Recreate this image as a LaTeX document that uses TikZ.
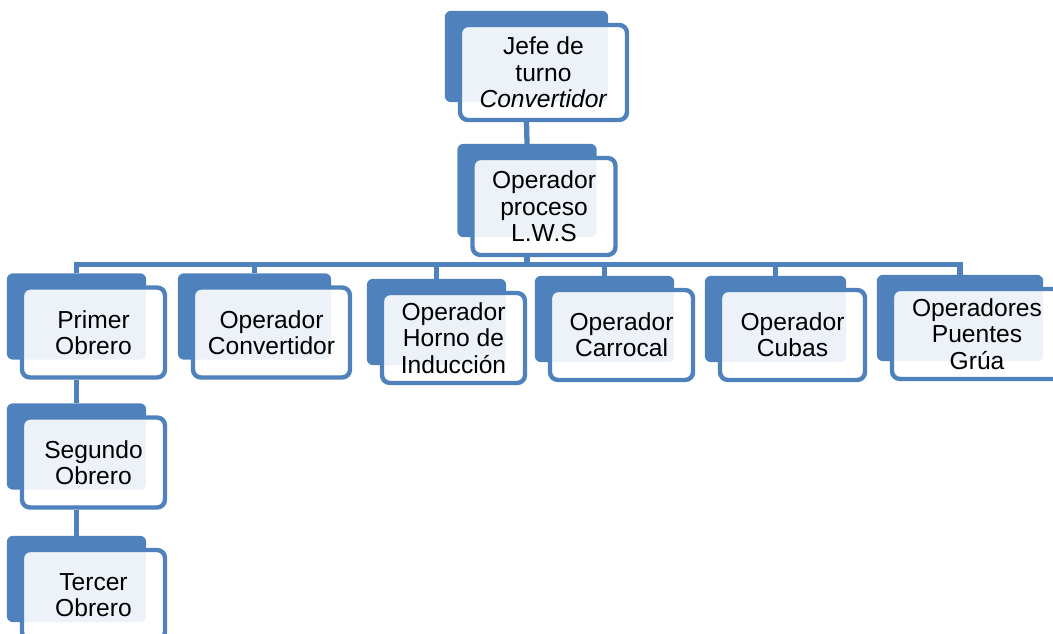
\documentclass[tikz,border=0pt]{standalone}
\usepackage{fontspec}
\setmainfont{Liberation Sans}
\usetikzlibrary{backgrounds}
\definecolor{orgblue}{HTML}{4F81BD}

\begin{document}
\begin{tikzpicture}[x=0.02cm,y=-0.02cm,
    box/.style={draw=orgblue,line width=2.5pt,rounded corners=4.5pt,fill=white,fill opacity=0.9,text opacity=1,
      align=center,inner sep=0pt,font=\fontsize{14}{15}\selectfont,minimum width=2.86cm,minimum height=1.8cm},
    link/.style={draw=orgblue,line width=3pt}]
    \useasboundingbox (0,0) rectangle (1053,634);

    % Top of the chart
    \node[box,minimum width=3.34cm,minimum height=1.9cm] (jefe) at (543.5,72.5) {Jefe de\\turno\\\textit{Convertidor}};
    \node[box,minimum height=1.94cm] (proceso) at (544,206.5) {Operador\\proceso\\L.W.S};

    % Operators row
    \node[box] (primer) at (93.5,332.5) {Primer\\Obrero};
    \node[box,minimum width=3.14cm] (convertidor) at (271.5,332.5) {Operador\\Convertidor};
    \node[box] (horno) at (453.5,338) {Operador\\Horno de\\Inducción};
    \node[box] (carrocal) at (621.5,335) {Operador\\Carrocal};
    \node[box,minimum width=2.9cm] (cubas) at (792.5,335) {Operador\\Cubas};
    \node[box,minimum width=3.4cm] (puentes) at (977,334) {Operadores\\Puentes\\Grúa};

    % Workers under Primer Obrero
    \node[box] (segundo) at (93.5,462.5) {Segundo\\Obrero};
    \node[box] (tercer) at (93.5,595) {Tercer\\Obrero};

    % Blue cards behind the boxes
    \begin{scope}[on background layer]
        \foreach \n in {jefe,proceso,primer,convertidor,horno,carrocal,cubas,puentes,segundo,tercer}
            \fill[orgblue,rounded corners=3.5pt] ([xshift=-0.26cm,yshift=0.24cm]\n.north west) rectangle ([xshift=-0.42cm,yshift=0.4cm]\n.south east);
    \end{scope}

    % Connectors
    \draw[link] ([xshift=-0.34cm]jefe.south) -- ([xshift=-0.34cm,yshift=0.24cm]proceso.north);
    \foreach \n in {primer,convertidor,horno,carrocal,cubas,puentes}
        \draw[link] ([xshift=-0.34cm]proceso.south) -- ++(0,7) -| ([xshift=-0.34cm,yshift=0.24cm]\n.north);
    \draw[link] ([xshift=-0.34cm]primer.south) -- ([xshift=-0.34cm,yshift=0.24cm]segundo.north);
    \draw[link] ([xshift=-0.34cm]segundo.south) -- ([xshift=-0.34cm,yshift=0.24cm]tercer.north);
\end{tikzpicture}
\end{document}
